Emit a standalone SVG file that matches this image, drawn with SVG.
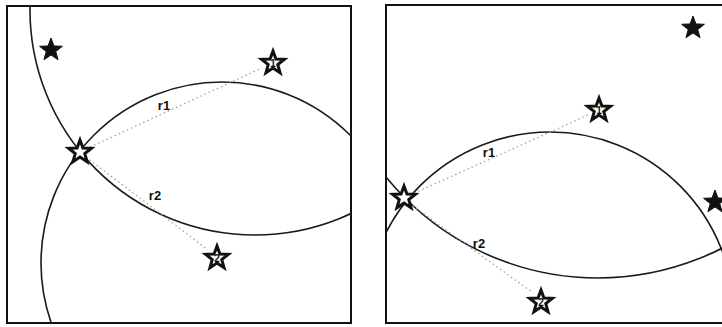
<svg xmlns="http://www.w3.org/2000/svg" width="722" height="327" viewBox="0 0 722 327">
<style>
.panel{fill:#fff;stroke:#111;stroke-width:2}
.arc{fill:none;stroke:#1a1a1a;stroke-width:1.6}
.dot{fill:none;stroke:#9a9a9a;stroke-width:1.2;stroke-dasharray:1.5 3}
.filled{fill:#111;stroke:#111;stroke-width:1}
.hollow{fill:#fff;stroke:#111;stroke-width:3;stroke-linejoin:miter}
.lbl{font-family:"Liberation Sans",Arial,sans-serif;font-weight:bold;font-size:13px;fill:#111;text-anchor:middle}
.num{font-family:"Liberation Sans",Arial,sans-serif;font-weight:bold;font-size:10px;fill:#111;text-anchor:middle}
</style>
<defs>
<path id="star" d="M0,-12 L2.94,-4.05 L11.41,-3.71 L4.76,1.55 L7.05,9.71 L0,5 L-7.05,9.71 L-4.76,1.55 L-11.41,-3.71 L-2.94,-4.05 Z"/>
<clipPath id="clipL"><rect x="7" y="6" width="344" height="317"/></clipPath>
<clipPath id="clipR"><rect x="386" y="5" width="340" height="318"/></clipPath>
</defs>
<rect width="722" height="327" fill="#fff"/>
<g id="panel-left">
<rect class="panel" x="7" y="6" width="344" height="317"/>
</g>
<g id="panel-right">
<rect class="panel" x="386" y="5" width="340" height="318"/>
</g>
<g id="connectors">
<g clip-path="url(#clipL)">
<circle class="arc" cx="255" cy="10" r="225"/>
<circle class="arc" cx="222" cy="263" r="181"/>
<line class="dot" x1="86" y1="149" x2="262" y2="68"/>
<line class="dot" x1="86" y1="157" x2="208" y2="250"/>
</g>
<g clip-path="url(#clipR)">
<circle class="arc" cx="550" cy="316" r="184"/>
<circle class="arc" cx="598" cy="5" r="273"/>
<line class="dot" x1="410" y1="195" x2="588" y2="115"/>
<line class="dot" x1="409" y1="203" x2="533" y2="293"/>
</g>
</g>
<g id="labels">
<text class="lbl" x="164" y="110">r1</text>
<text class="lbl" x="155" y="200">r2</text>
<text class="lbl" x="489" y="157">r1</text>
<text class="lbl" x="479" y="248">r2</text>
</g>
<g id="star-L-filled"><use href="#star" class="filled" x="51" y="50"/></g>
<g id="star-L-1"><use href="#star" class="hollow" x="273" y="63"/><text class="num" x="273" y="67">1</text></g>
<g id="star-L-center"><use href="#star" class="hollow" x="80" y="152"/></g>
<g id="star-L-2"><use href="#star" class="hollow" x="217" y="258"/><text class="num" x="217" y="262">2</text></g>
<g id="star-R-filled-top"><use href="#star" class="filled" x="693" y="28"/></g>
<g id="star-R-filled-edge"><use href="#star" class="filled" x="715" y="202"/></g>
<g id="star-R-1"><use href="#star" class="hollow" x="599" y="110"/><text class="num" x="599" y="114">1</text></g>
<g id="star-R-center"><use href="#star" class="hollow" x="404" y="198"/></g>
<g id="star-R-2"><use href="#star" class="hollow" x="541" y="302"/><text class="num" x="541" y="306">2</text></g>
</svg>
